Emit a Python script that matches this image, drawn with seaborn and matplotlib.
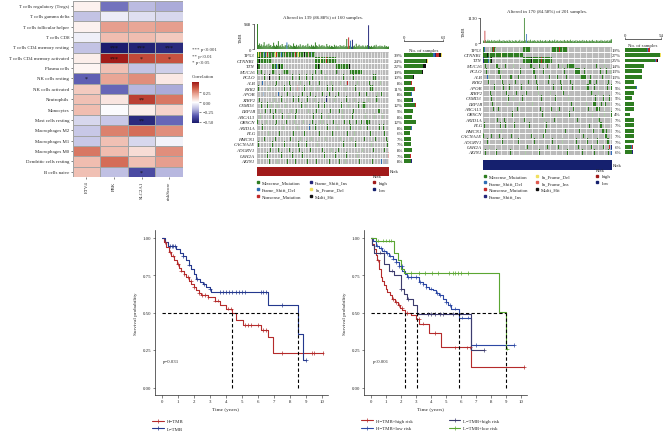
import numpy as np
import pandas as pd
import matplotlib
matplotlib.use("Agg")
import matplotlib.pyplot as plt
import seaborn as sns
from matplotlib.colors import ListedColormap, LinearSegmentedColormap
from matplotlib.lines import Line2D

# --------------------------
# data: immune correlation heatmap
# --------------------------
CELLS = ["T cells regulatory (Tregs)", "T cells gamma delta", "T cells follicular helper",
         "T cells CD8", "T cells CD4 memory resting", "T cells CD4 memory activated",
         "Plasma cells", "NK cells resting", "NK cells activated", "Neutrophils",
         "Monocytes", "Mast cells resting", "Macrophages M2", "Macrophages M1",
         "Macrophages M0", "Dendritic cells resting", "B cells naive"]
HM_GENES = ["ETV4", "PBK", "SLC2A1", "riskScore"]
CORR = [[0.03, -0.30, -0.17, -0.20],
        [-0.15, -0.05, -0.08, -0.10],
        [0.03, 0.22, 0.20, 0.22],
        [-0.04, 0.15, 0.15, 0.12],
        [-0.15, -0.52, -0.50, -0.48],
        [0.04, 0.50, 0.40, 0.38],
        [0.02, 0.14, -0.15, -0.12],
        [-0.33, 0.20, 0.25, 0.05],
        [0.12, -0.32, -0.18, -0.20],
        [0.14, 0.06, 0.42, 0.30],
        [0.15, -0.01, 0.04, 0.10],
        [-0.10, -0.14, -0.48, -0.32],
        [-0.14, 0.28, 0.32, 0.25],
        [-0.14, 0.14, -0.10, -0.03],
        [0.30, 0.15, 0.08, 0.25],
        [0.15, 0.32, 0.14, 0.22],
        [0.14, -0.16, -0.38, -0.18]]
STARS = [["", "", "", ""], ["", "", "", ""], ["", "", "", ""], ["", "", "", ""],
         ["", "***", "***", "***"], ["", "***", "*", "*"], ["", "", "", ""],
         ["*", "", "", ""], ["", "", "", ""], ["", "", "**", ""], ["", "", "", ""],
         ["", "", "**", ""], ["", "", "", ""], ["", "", "", ""], ["", "", "", ""],
         ["", "", "", ""], ["", "", "*", ""]]

# --------------------------
# data: oncoplots
# --------------------------
ONCO_GENES = ["TP53", "CTNNB1", "TTN", "MUC16", "PCLO", "ALB", "RYR2", "APOB", "XIRP2",
              "CSMD3", "LRP1B", "ABCA13", "OBSCN", "ARID1A", "FLG", "HMCN1", "CACNA1E",
              "ADGRV1", "USH2A", "AXIN1"]
PCT_A = [39, 24, 22, 19, 10, 8, 11, 8, 9, 12, 9, 8, 12, 8, 6, 7, 7, 8, 7, 8]
PCT_B = [19, 27, 25, 14, 13, 13, 7, 9, 7, 5, 7, 7, 4, 7, 7, 7, 7, 7, 6, 6]
COUNT_A = [62, 38, 35, 30, 16, 13, 18, 13, 14, 19, 14, 13, 19, 13, 10, 11, 11, 13, 11, 13]
COUNT_B = [38, 54, 50, 28, 26, 26, 14, 18, 14, 10, 14, 14, 8, 14, 14, 14, 14, 14, 12, 12]

# one character per altered sample: . none, M missense, D frame-shift del, N nonsense,
# I frame-shift ins, d in-frame del, i in-frame ins, H multi hit
MUT_A = [
    "MMdMNMMMDM MNMMMHMMMM dNMMMMDMMM NMMMMMIMMM MNMMdMMMMM HMMMNMMDMM MM",
    "MMMHMMMMMM MMMMMM.... .......... .......... .......... .......... ..MMMMMdMM MMMNMMMMMM MMMM",
    "MHMM...... ......MMMM MDMMHMMM.. .......... .......... .......... ..MMMHM... .......... ....MMMMMM MMMMMMMH",
    "MM..MM.... ......MMM. ........MM MMMM...... .......... .......... ..M....MM. .......... ....MH.... ........MM MMMMMMMMMM M",
    "........M. ...H...... ....M..... .......M.. .....M.... ..M.....M. .......... ..M....... .......... .M........ ..M....... .......... ...MMM....",
    "......D... .......... .M........ ....M..... ......M... .....M.... ......M... ........M. ........M. .....N.... ......M... ........M. .......... M",
    "..M....... ..M......M .........M .....M.... ...N...... M......M.. ....M..... ....M..... M......... ...M...... ....M..... .........M MMM.......",
    ".......D.. .......... ...D...... ..M....... ........M. ......M... .........M ......M... ......M... .........M ........M. .....M.... .......M.. .M",
    "...M...... ........M. ......M... ........M. ....M..... ...M...... .M........ ...I...... ..M....... ....M..... ...M...... .......M.. ......MM",
    ".....M.... .M...M.... ..M....... M........M .......M.. .M.......N .....M.... .M.......M .........M ......M... .......M.. .MMMM.....",
    ".........M ....M..... M....M.... ......M... ..M....... ....M..... ...M...... .......M.. .......M.. M......... ..M....... .......... ........MM",
    "....M..... .......M.. .......M.. ...M...... .M........ .......... M.......M. .....M.... .......... M......... .M........ ....M..... ....M..... ..M",
    ".M........ M......... .M........ .M........ M........M ........M. .......M.. M......... .M........ ..M....M.. .....M.... M....MMMM.",
    "......M... .........M ........M. .......... ...M...... .....D.... ..M....... ....M..... .....M.... ........M. .........M ......M... .........M ...M",
    ".......... ..M....... ....M..... ........M. .......... M......... ......M... .......... M......... .....M.... ...M...... .......... M......... ....M",
    "........M. .......... M......... .....M.... ......M... .......M.. .......... ..M....... ........M. .......... M......... ...M...... .....M.... ......M",
    "..M....... ......M... .........M .......... ....M..... ..M....... ....M..... .........M .......... .M........ ....M..... .......... .M........ .......M",
    "M......... ....M..... ...M...... ....M..... .....M.... ......M... .........M ........M. ......M... .........M .......... .M........ ...M...... ....M",
    ".......... .M........ ......M... .......M.. ........M. .........M .......... .M........ ...M...... ....M..... ......M... .........D .......... ........N",
    ".......... ...M...... ..M....... ..M....... .M........ ...M...... ...M...... ......M... .......M.. ...M...... ........M. .......... ..M....... .D...I",
]
MUT_B = [
    "MMD....... ..MMNMMM.. .......... .......... .......... ....MMMMHM MMM....... .......... .......... ..MMMDMMMM MNMMMMMMMM MM",
    "MMMMMMHMMM MMMMMMMMMM MMMMMdMMMM MMMMMMMMMM MMMMMMMMMM MMMM",
    "MIMMMMMDMM MH........ .......... .......... .......... ....MMMMMM MMMMHMMMMM MMMMMMMNMM MMMMMMMMMM MM",
    "...MM..... ........MM M......... M......... M......... .......... ...MMMM... .....M.... .....M.... .......... M....M.... ..MMMMMMMM MM........ .......... M......... M......... M",
    ".....M.... .......... .MM..M.... ...M...... .....M.... M......... .......MM. .......... M......... .....M.... ........M. .......... ..MMMMMMM. ....M..... .....M.... .....M.... ...M....M.",
    "......D..M .......... ...MM..... ......M.M. .......M.. .......... .........M M......... ..M.....M. ........M. .......... M......... .........M MMMMMM.... ..M....... ...M....M. .....M....",
    ".......M.. .......... ......M..M .......... ...M...... .......... M......... .M........ ......M... .......... ..M....... .....M.... .......... .......... MMM....... M......... ......M...",
    "........D. .....M.... .......M.. .....M.... .......... .M........ .......... ..M.....M. .......... ...M...... ....M..... ........M. .......... ......MMMM .......M.. .......M.. ....M....M",
    ".......... M......... .......... .M........ ....M..... .......M.. .......... ...M...... .........M .......... ......M... .......... ....M..... .......... ...MMM.... ..M....... .M........",
    ".......... .M........ .......... ....M..... M......... ..M....... .......... .......M.. .......... ......M... .......... ...M...... .......... .......... ........M. .........M .......M..",
    ".......... ...M...... .......... ..M....... ........M. .......... .....M.... ....M..... .......M.. .........M .......... .......M.. .......... .......M.. ......MMM. ......M... ..M.......",
    ".......... ....M..... .M........ .......M.. ......M... .......... .......... ......M... .......... M......... .M........ .........M .......... .........M .........M MM..M.....",
    ".......... ......M... .......... .........M .......... .......... .......... .........M .......... .......M.. .......... ....M..... .......... .......... ....M..... .......... M........M",
    ".......... .........M ........M. .......... .........M .....M.... .......... .......... .M........ ....M..... .......M.. .......... .....M.... .......... .........M ..MMM..... .M........",
    "..M....... .......... ...M...... M......... ..M....... .......... .M........ .......... ....M..... .......... ...M...... .......... M......... .......... .M........ .....MMM.. .....M....",
    "....M..... .......... .....M.... .......... .M........ ........M. .......... M......... ...M...... .......... .........M .......... .......M.. .......... ......M... ........MM M..M......",
    ".M........ .M........ ..M....... ........M. .......... .......... ....M..... .......... M......... .....M.... .......... ......M... .......... ...M...... .......... .......M.. .MMM......",
    "......M... .......... ......M... ...M...... .......M.. .......... ........M. .......... .......... ..M....... .....M.... .......... ...M...... ........M. .......... .M........ ....MMM...",
    ".........M .......... ....M..... .......... .....M.... .........M .......... .......... .....M.... .......... M......... .......... ......M... .......... ...M...... .........M .......NDI",
    "...M...... ........M. .......... ......M... .......... ......M... .......... .....M.... .......... .M........ .......... ..M....... .......... .M........ .......M.. .......... ......M.ID",
]
TMB_A = [948, 150, 210, 120, 180, 95, 140, 260, 110, 130,
         170, 90, 200, 120, 150, 80, 110, 240, 130, 95,
         160, 120, 300, 100, 140, 85, 190, 110, 75, 130,
         150, 250, 120, 170, 80, 140, 110, 90, 210, 120,
         100, 160, 85, 130, 95, 180, 70, 120, 150, 90,
         110, 140, 75, 200, 95, 120, 85, 160, 100, 130,
         90, 250, 140, 110, 80, 170, 95, 120, 150, 85,
         130, 100, 70, 190, 110, 90, 140, 80, 120, 100,
         75, 160, 95, 130, 85, 110, 70, 150, 100, 120,
         90, 140, 80, 110, 380, 95, 440, 120, 316, 85,
         350, 100, 130, 75, 200, 95, 110, 160, 85, 120,
         90, 140, 100, 70, 130, 95, 150, 900, 110, 85,
         120, 75, 100, 140, 90, 160, 70, 110, 95, 130,
         85, 120, 100, 75, 140, 90, 110, 80, 95]
TMB_B = [120, 90, 560, 140, 80, 110, 160, 95, 130, 70,
         100, 150, 85, 120, 60, 140, 95, 110, 75, 130,
         90, 160, 70, 115, 100, 85, 140, 65, 120, 95,
         80, 130, 105, 70, 150, 90, 115, 60, 135, 85,
         100, 75, 140, 95, 120, 65, 110, 90, 155, 70,
         95, 125, 80, 100, 1130, 140, 90, 415, 110, 75,
         130, 85, 160, 95, 70, 120, 100, 145, 80, 110,
         65, 135, 90, 115, 75, 150, 100, 85, 125, 70,
         110, 95, 140, 80, 120, 65, 100, 150, 90, 115,
         75, 130, 85, 105, 160, 70, 120, 95, 140, 80,
         110, 65, 135, 100, 85, 125, 75, 150, 90, 115,
         70, 140, 95, 120, 80, 160, 100, 85, 130, 75,
         110, 90, 145, 65, 120, 100, 80, 135, 95, 115,
         70, 150, 85, 125, 100, 75, 140, 90, 110, 65,
         130, 95, 120, 80, 155, 100, 85, 115, 70, 140,
         90, 125, 75, 110, 95, 150, 80, 120, 100, 65,
         135, 85, 115, 90, 140, 70, 125, 100, 160, 180]
# samples whose TMB bar is dominated by a non-missense class
TMB_A_OTHER = {31: "D", 96: "N", 98: "D", 100: "I", 117: "I"}
TMB_B_OTHER = {2: "N", 57: "D"}
RISK_A = "high"
RISK_B = "low"

# --------------------------
# data: Kaplan-Meier curves (time in years, survival probability)
# --------------------------
KM1 = {
    "H\u2212TMB": ([0, 0.12, 0.27, 0.42, 0.58, 0.74, 0.9, 1.05, 1.2, 1.36, 1.52, 1.68, 1.83, 2.0,
                   2.15, 2.3, 2.46, 2.88, 3.29, 3.6, 4.0, 4.4, 4.65, 5.06, 6.2, 6.65, 6.94, 10.06],
                  [1.0, 0.97, 0.935, 0.905, 0.88, 0.85, 0.825, 0.8, 0.78, 0.758, 0.736, 0.713,
                   0.69, 0.668, 0.648, 0.63, 0.615, 0.603, 0.58, 0.548, 0.526, 0.495, 0.449,
                   0.416, 0.383, 0.335, 0.228, 0.228]),
    "L\u2212TMB": ([0, 0.17, 0.38, 0.85, 1.1, 1.3, 1.52, 1.68, 1.83, 2.0, 2.15, 2.35, 2.56, 2.75,
                   2.98, 3.08, 6.62, 8.52, 8.82, 9.0],
                  [1.0, 0.967, 0.945, 0.925, 0.9, 0.875, 0.847, 0.82, 0.79, 0.76, 0.725, 0.705,
                   0.69, 0.672, 0.658, 0.637, 0.548, 0.36, 0.184, 0.184]),
}
KM1_CENSOR = {
    "H\u2212TMB": [0.2, 0.5, 0.7, 1.0, 1.2, 1.4, 1.6, 1.8, 2.0, 2.3, 2.5, 2.7, 2.9, 3.3, 3.5, 4.1,
                   4.3, 5.2, 5.4, 5.6, 6.0, 6.3, 6.5, 7.5, 9.4, 9.55, 10.06],
    "L\u2212TMB": [0.5, 0.6, 0.7, 0.8, 1.3, 1.7, 2.2, 2.6, 3.0, 3.6, 3.8, 4.0, 4.2, 4.4, 4.6, 4.8,
                   5.0, 5.2, 6.2, 6.35, 6.5, 7.5, 9.0],
}
KM1_COLORS = {"H\u2212TMB": "#B52B2B", "L\u2212TMB": "#24388E"}

KM2 = {
    "H\u2212TMB+high risk": ([0, 0.1, 0.22, 0.33, 0.44, 0.55, 0.67, 0.78, 0.89, 1.0, 1.11, 1.25,
                             1.44, 1.6, 1.78, 1.95, 2.11, 2.29, 2.67, 3.0, 3.22, 3.89, 4.67, 6.7,
                             10.2],
                            [1.0, 0.96, 0.924, 0.885, 0.847, 0.79, 0.736, 0.71, 0.681, 0.66,
                             0.637, 0.615, 0.592, 0.57, 0.548, 0.53, 0.515, 0.495, 0.482, 0.46,
                             0.426, 0.365, 0.267, 0.135, 0.135]),
    "H\u2212TMB+low risk": ([0, 0.15, 0.33, 0.55, 0.78, 1.0, 1.22, 1.45, 1.67, 1.9, 2.11, 2.3,
                            2.44, 3.22, 3.45, 3.67, 3.9, 4.11, 4.35, 4.56, 4.8, 5.0, 5.15, 5.33,
                            5.89, 6.7, 9.56],
                           [1.0, 0.975, 0.946, 0.93, 0.913, 0.897, 0.88, 0.86, 0.836, 0.81, 0.78,
                            0.755, 0.736, 0.703, 0.688, 0.67, 0.66, 0.648, 0.632, 0.615, 0.592,
                            0.57, 0.548, 0.526, 0.466, 0.283, 0.283]),
    "L\u2212TMB+high risk": ([0, 0.1, 0.22, 0.89, 1.22, 1.56, 2.0, 2.22, 2.44, 2.78, 3.11, 6.7,
                             7.56],
                            [1.0, 0.95, 0.9, 0.825, 0.78, 0.747, 0.658, 0.625, 0.592, 0.548, 0.488,
                             0.25, 0.25]),
    "L\u2212TMB+low risk": ([0, 0.33, 1.56, 1.78, 2.0, 2.22, 8.56, 8.98, 9.05],
                           [1.0, 0.98, 0.9, 0.847, 0.79, 0.763, 0.505, 0.26, 0.26]),
}
KM2_CENSOR = {
    "H\u2212TMB+high risk": [0.5, 1.5, 1.7, 1.9, 2.1, 2.4, 3.2, 3.5, 4.3, 5.6, 6.4, 6.6, 10.2],
    "H\u2212TMB+low risk": [0.4, 0.7, 0.9, 1.1, 1.3, 1.5, 1.7, 1.9, 2.1, 2.5, 2.7, 3.0, 3.3, 3.5,
                           3.7, 4.0, 4.4, 4.6, 5.0, 5.3, 5.6, 6.1, 6.5, 7.0, 9.56],
    "L\u2212TMB+high risk": [0.6, 1.4, 2.0, 2.45, 3.8, 4.0, 4.3, 4.6, 4.8, 5.5, 7.56],
    "L\u2212TMB+low risk": [0.5, 0.8, 1.0, 1.2, 1.35, 2.7, 3.2, 3.6, 4.1, 4.5, 5.2, 5.5, 5.6, 5.8,
                           6.0, 6.5, 9.05],
}
KM2_COLORS = {"H\u2212TMB+high risk": "#B52B2B", "H\u2212TMB+low risk": "#2C48A4",
              "L\u2212TMB+high risk": "#3D3C6E", "L\u2212TMB+low risk": "#5BA632"}
P_TEXT = ["p=0.031", "p<0.001"]

# --------------------------
# style
# --------------------------
sns.set_style("white")
plt.rcParams["font.family"] = ["Liberation Serif", "DejaVu Serif"]
plt.rcParams["axes.linewidth"] = 0.5
FS = 3.5
W, H = 664, 435


def box(l, t, r, b):
    return [l / W, 1 - b / H, (r - l) / W, (b - t) / H]


fig = plt.figure(figsize=(W / 100, H / 100), dpi=100)

# --------------------------
# Graph 1 - correlation heatmap
# --------------------------
ax = fig.add_axes(box(72.7, 1.7, 183, 178))
cax = fig.add_axes(box(191.7, 82.7, 199.3, 124))
corr_cmap = LinearSegmentedColormap.from_list(
    "corr", ["#1B1B6C", "#5454AE", "#B9B9E0", "#FFFFFF", "#EDB2A3", "#CF5E48", "#9B1111"])
corr_df = pd.DataFrame(CORR, index=CELLS, columns=HM_GENES)
sns.heatmap(corr_df, ax=ax, cbar_ax=cax, cmap=corr_cmap, vmin=-0.53, vmax=0.52, center=0,
            annot=np.array(STARS), fmt="", annot_kws={"size": 4.2, "color": "#111111"},
            linewidths=0.6, linecolor="#A3A3A3", xticklabels=True, yticklabels=True)
ax.set_yticklabels(CELLS, fontsize=FS, rotation=0)
ax.set_xticklabels(HM_GENES, fontsize=FS, rotation=90)
ax.tick_params(length=1.5, width=0.4, pad=1, left=True, bottom=True)
cax.set_yticks([0.25, 0, -0.25, -0.5])
cax.set_yticklabels(["0.25", "0.00", "\u22120.25", "\u22120.50"])
cax.tick_params(labelsize=FS, length=1.5, width=0.4, pad=1, colors="#333333")
for s, yy in zip(["*** p<0.001", "** p<0.01", "* p<0.05"], [50, 56.7, 63.3]):
    fig.text(191.7 / W, 1 - yy / H, s, fontsize=FS, va="center", color="#333333")
fig.text(191.7 / W, 1 - 77.3 / H, "Correlation", fontsize=FS, va="center", color="#333333")

# --------------------------
# Graph 2/3 - oncoplots
# --------------------------
CODE = {".": 0, "M": 1, "D": 2, "N": 3, "I": 4, "d": 5, "i": 6, "H": 7}
MUT_COLORS = ["#BABABA", "#2E7D21", "#2E6DB4", "#C22A2A", "#24277A", "#F0E060", "#E05A50",
              "#111111"]
MUT_NAMES = {"M": "Missense_Mutation", "D": "Frame_Shift_Del", "N": "Nonsense_Mutation",
             "I": "Frame_Shift_Ins", "d": "In_Frame_Del", "i": "In_Frame_Ins", "H": "Multi_Hit"}
RISK_COLORS = {"high": "#A11A1A", "low": "#15206E"}


def grid(rows, n):
    return np.array([[CODE[c] for c in r.replace(" ", "").ljust(n, ".")[:n]] for r in rows])


def square(code):
    return Line2D([], [], ls="none", marker="s", markersize=1.8, color=MUT_COLORS[CODE[code]])


def draw_onco(cfg):
    n = len(cfg["tmb"])
    mat = grid(cfg["rows"], n)

    # top TMB bars
    at = fig.add_axes(box(*cfg["b_tmb"]))
    cls = ["M"] * n
    for k, v in cfg["tmb_other"].items():
        cls[k] = v
    tdf = pd.DataFrame({"s": np.arange(n), "tmb": cfg["tmb"], "cls": cls})
    sns.barplot(data=tdf, x="s", y="tmb", hue="cls", dodge=False, width=1.0, saturation=1,
                palette={c: MUT_COLORS[CODE[c]] for c in CODE if c != "."}, legend=False, ax=at)
    for p in at.patches:
        p.set_snap(False)
        p.set_linewidth(0)
    at.set_xlim(-0.5, n - 0.5)
    at.set_ylim(0, max(cfg["tmb"]))
    at.set_yticks([0, max(cfg["tmb"])])
    at.set_xticks([])
    at.set_xlabel("")
    at.set_ylabel("TMB", fontsize=FS, labelpad=1)
    for sp in ["top", "right", "bottom"]:
        at.spines[sp].set_visible(False)
    at.spines["left"].set_position(("outward", 2))
    at.tick_params(axis="y", labelsize=FS, length=1.5, width=0.4, pad=0.5, left=True)

    # matrix (per-sample borders are sub-pixel here, so only every few columns show)
    am = fig.add_axes(box(*cfg["b_mat"]))
    sns.heatmap(mat, ax=am, cmap=ListedColormap(MUT_COLORS), vmin=-0.5, vmax=7.5, cbar=False,
                linewidths=0, xticklabels=False, yticklabels=True)
    am.collections[0].set_snap(False)
    am.vlines(np.arange(cfg["stripe"], n, cfg["stripe"]), 0, len(ONCO_GENES), color="white",
              lw=0.45)
    am.hlines(np.arange(1, len(ONCO_GENES)), 0, n, color="white", lw=0.7)
    am.set_yticklabels(ONCO_GENES, fontsize=FS, fontstyle="italic", rotation=0)
    am.tick_params(axis="y", length=0, pad=cfg["gene_pad"])

    # right bars
    ab = fig.add_axes(box(*cfg["b_bar"]))
    order = ["M", "D", "I", "N", "H", "d", "i"]
    left = np.zeros(len(ONCO_GENES))
    for c in order:
        fr = np.array([r.count(c) / max(1, sum(r.count(k) for k in order)) for r in cfg["rows"]])
        w = fr * np.array(cfg["counts"])
        ab.barh(np.arange(len(ONCO_GENES)) + 0.5, w, left=left, height=0.72,
                color=MUT_COLORS[CODE[c]], linewidth=0)
        left += w
    ab.set_ylim(len(ONCO_GENES), 0)
    ab.set_xlim(0, cfg["bar_max"])
    ab.xaxis.tick_top()
    ab.set_xticks([0, cfg["bar_max"]])
    ab.set_yticks([])
    for sp in ["bottom", "right", "left"]:
        ab.spines[sp].set_visible(False)
    ab.spines["top"].set_position(("outward", cfg["bar_out"]))
    ab.tick_params(axis="x", labelsize=FS, length=1.2, width=0.4, pad=0.3, top=True)
    ab.text(0.5, 1.0, "No. of samples", transform=ab.transAxes, ha="center", va="bottom",
            fontsize=FS)
    for i, p in enumerate(cfg["pct"]):
        ab.annotate(f"{p}%", xy=(0, i + 0.5), xycoords=("axes fraction", "data"),
                    xytext=(cfg["pct_off"], 0), textcoords="offset points", ha="right",
                    va="center", fontsize=FS)

    # risk strip
    ar = fig.add_axes(box(*cfg["b_risk"]))
    risk = [cfg["risk"]] * n
    rv = np.array([[0 if r == "high" else 1 for r in risk]])
    sns.heatmap(rv, ax=ar, cmap=ListedColormap([RISK_COLORS["high"], RISK_COLORS["low"]]),
                vmin=-0.5, vmax=1.5, cbar=False, xticklabels=False, yticklabels=False)
    ar.text(1.01, 0.5, "Risk", transform=ar.transAxes, va="center", fontsize=FS)

    # title
    t = cfg["title"]
    fig.text(t[1] / W, 1 - t[2] / H, t[0], fontsize=FS, ha="center", va="center")

    # legend columns
    for x, y, codes, title in cfg["legend"]:
        if title:
            hs = [Line2D([], [], ls="none", marker="s", markersize=1.8, color=RISK_COLORS[k])
                  for k in codes]
            labs = codes
        else:
            hs = [square(c) for c in codes]
            labs = [MUT_NAMES[c] for c in codes]
        leg = fig.legend(hs, labs, loc="upper left", bbox_to_anchor=(x / W, 1 - y / H),
                         frameon=False, fontsize=FS, handlelength=0.6, handletextpad=0.6,
                         labelspacing=cfg["lspace"], borderpad=0, borderaxespad=0,
                         title=title, title_fontsize=FS)
        if title:
            leg._legend_box.align = "left"


draw_onco({
    "rows": MUT_A, "tmb": TMB_A, "tmb_other": TMB_A_OTHER, "pct": PCT_A, "counts": COUNT_A,
    "bar_max": 63, "risk": RISK_A, "stripe": 3,
    "title": ("Altered in 139 (86.88%) of 160 samples.", 323, 18),
    "b_tmb": (257, 25, 389, 50), "b_mat": (257, 53.3, 389, 165), "b_bar": (404, 53.3, 443, 165),
    "b_risk": (257, 168, 389, 177), "bar_out": 8, "pct_off": -0.8, "gene_pad": 1.5,
    "lspace": 0.6,
    "legend": [(256.5, 180.8, ["M", "D", "N"], None), (309.5, 180.8, ["I", "d", "H"], None),
               (373, 174.5, ["high", "low"], "Risk")],
})
draw_onco({
    "rows": MUT_B, "tmb": TMB_B, "tmb_other": TMB_B_OTHER, "pct": PCT_B, "counts": COUNT_B,
    "bar_max": 54, "risk": RISK_B, "stripe": 8,
    "title": ("Altered in 170 (84.58%) of 201 samples.", 547, 12.3),
    "b_tmb": (483, 19, 612, 44.3), "b_mat": (483, 48, 612, 156), "b_bar": (625, 48, 661, 156),
    "b_risk": (483, 160.7, 612, 170.7), "bar_out": 6, "pct_off": -3, "gene_pad": 0.8,
    "lspace": 0.5,
    "legend": [(483.5, 174.8, ["M", "D", "N", "I"], None), (535.5, 174.8, ["d", "i", "H"], None),
               (596, 168.5, ["high", "low"], "Risk")],
})

# --------------------------
# Graph 4/5 - Kaplan-Meier curves
# --------------------------


def draw_km(b, curves, censors, colors, ptext, px, legend_xy, ncol, colspace):
    ax = fig.add_axes(box(*b))
    rows, crow, medians = [], [], []
    for g, (t, s) in curves.items():
        rows += [(g, ti, si) for ti, si in zip(t, s)]
        ta, sa = np.array(t), np.array(s)
        for c in censors[g]:
            crow.append((g, c, sa[np.searchsorted(ta, c, side="right") - 1]))
        medians.append(ta[np.argmax(sa <= 0.5)])
    df = pd.DataFrame(rows, columns=["group", "time", "surv"])
    cdf = pd.DataFrame(crow, columns=["group", "time", "surv"])
    sns.lineplot(data=df, x="time", y="surv", hue="group", palette=colors, drawstyle="steps-post",
                 estimator=None, sort=False, lw=0.8, legend=False, ax=ax)
    sns.scatterplot(data=cdf, x="time", y="surv", hue="group", palette=colors, marker="+", s=7,
                    linewidth=0.5, legend=False, ax=ax, zorder=3)
    ax.hlines(0.5, 0, max(medians), colors="black", linestyles=(0, (3, 2)), lw=0.8)
    ax.vlines(medians, 0, 0.5, colors="black", linestyles=(0, (3, 2)), lw=0.8)
    ax.set_xlim(-0.45, 10.4)
    ax.set_ylim(-0.05, 1.05)
    ax.set_xticks(range(11))
    ax.set_yticks([0, 0.25, 0.5, 0.75, 1.0])
    ax.set_yticklabels(["0.00", "0.25", "0.50", "0.75", "1.00"])
    sns.despine(ax=ax)
    ax.tick_params(labelsize=FS, length=1.8, width=0.4, pad=1, left=True, bottom=True)
    ax.set_xlabel("Time (years)", fontsize=3.8, labelpad=2)
    ax.xaxis.set_label_coords(0.41, -0.075)
    ax.set_ylabel("Survival probability", fontsize=3.8, labelpad=3)
    ax.text(px, 0.18, ptext, fontsize=FS, va="center")
    hs = [Line2D([], [], color=colors[g], lw=0.8, marker="+", markersize=2.5,
                 markeredgewidth=0.5) for g in curves]
    fig.legend(hs, list(curves), loc="upper left", bbox_to_anchor=(legend_xy[0] / W,
               1 - legend_xy[1] / H), ncol=ncol, frameon=False, fontsize=FS, handlelength=2.4,
               handletextpad=0.6, labelspacing=0.65, columnspacing=colspace, borderpad=0,
               borderaxespad=0)


draw_km((155, 231, 328, 396), KM1, KM1_CENSOR, KM1_COLORS, P_TEXT[0], 0.05, (152, 420), 1, 2)
draw_km((364, 231, 527, 396), KM2, KM2_CENSOR, KM2_COLORS, P_TEXT[1], 0.15, (361, 419.5), 2,
        7.5)

fig.savefig("out.png", dpi=100)
